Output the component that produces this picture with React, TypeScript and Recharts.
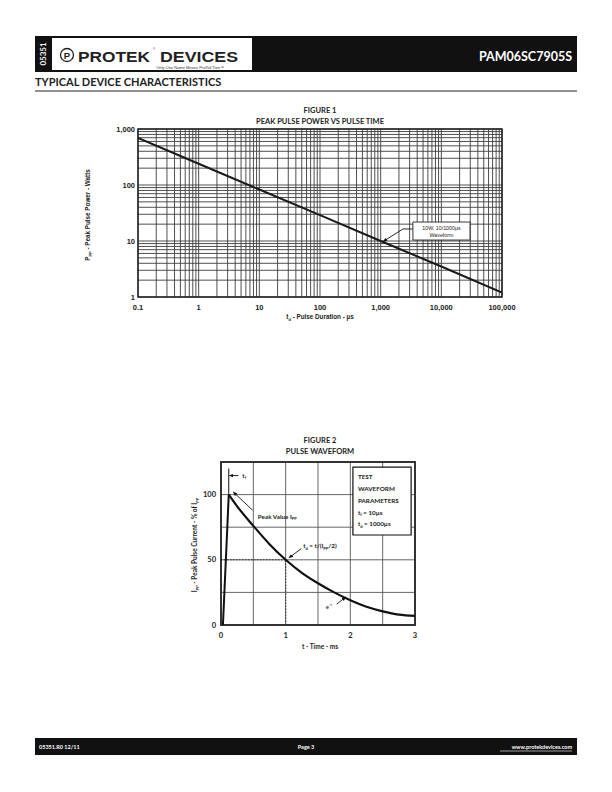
import React from "react"
import {
	LineChart,
	Line,
	XAxis,
	YAxis,
	CartesianGrid,
	ReferenceArea,
	ReferenceLine,
	ReferenceDot
} from "recharts"

// Figure 1 - peak pulse power vs pulse time (log-log)
const DURATION_US = [0.1, 1, 10, 100, 1000, 10000, 100000]
const PEAK_POWER_W = [690, 240, 83, 29, 10, 3.5, 1.2]
const X_DECADES = [0.1, 1, 10, 100, 1000, 10000, 100000]
const X_DECADE_LABELS = ["0.1", "1", "10", "100", "1,000", "10,000", "100,000"]
const Y_DECADES = [1, 10, 100, 1000]
const Y_DECADE_LABELS = ["1", "10", "100", "1,000"]
const MINOR_STEPS = [1, 2, 3, 4, 5, 6, 7, 8, 9]

// Figure 2 - pulse waveform
const RISE_MS = [0.03, 0.12]
const RISE_PCT = [0, 100]
const DECAY_MS = [0.12, 0.25, 0.5, 0.75, 1, 1.25, 1.5, 1.75, 2, 2.25, 2.5, 2.75, 3]
const DECAY_PCT = [100, 91, 76, 62, 50, 40, 32, 25, 19, 14, 10.5, 8, 7]
const WAVE_X_TICKS = [0, 0.5, 1, 1.5, 2, 2.5, 3]
const WAVE_X_LABELS = ["0", "", "1", "", "2", "", "3"]
const WAVE_Y_TICKS = [0, 25, 50, 75, 100, 125]
const WAVE_Y_LABELS = ["0", "", "50", "", "100", ""]

const CAL = "Lato, 'Open Sans', sans-serif"
const ARIAL = "'Liberation Sans', Arial, sans-serif"

const powerData = DURATION_US.map((t, i) => ({ t, p: PEAK_POWER_W[i] }))
const riseData = RISE_MS.map((t, i) => ({ t, v: RISE_PCT[i] }))
const decayData = DECAY_MS.map((t, i) => ({ t, v: DECAY_PCT[i] }))

const logTicks = (decades: number[]) =>
	decades.slice(0, -1).flatMap(d => MINOR_STEPS.map(m => d * m)).concat([decades[decades.length - 1]])

const decadeLabel = (decades: number[], labels: string[]) => (v: number) => {
	const i = decades.findIndex(d => Math.abs(d - v) < d * 1e-6)
	return i >= 0 ? labels[i] : ""
}

const listLabel = (ticks: number[], labels: string[]) => (v: number) => {
	const i = ticks.indexOf(v)
	return i >= 0 ? labels[i] : ""
}

// small text placed at a data point
function note(key: string, x: number, y: number, node: any) {
	return (
		<ReferenceDot
			key={key}
			x={x}
			y={y}
			r={0}
			fill="none"
			stroke="none"
			ifOverflow="visible"
			label={{
				content: (p: any) => {
					const vb = p.viewBox || {}
					return <g transform={`translate(${vb.x},${vb.y})`}>{node}</g>
				}
			}}
		/>
	)
}

function arrow(key: string, x1: number, y1: number, x2: number, y2: number, head = true) {
	return (
		<ReferenceLine
			key={key}
			segment={[{ x: x1, y: y1 }, { x: x2, y: y2 }]}
			ifOverflow="visible"
			shape={(p: any) => (
				<line
					x1={p.x1}
					y1={p.y1}
					x2={p.x2}
					y2={p.y2}
					stroke="#111"
					strokeWidth={0.9}
					markerEnd={head ? "url(#arrowHead)" : undefined}
				/>
			)}
		/>
	)
}

function PowerChart() {
	const xTicks = logTicks(X_DECADES)
	const yTicks = logTicks(Y_DECADES)
	const tickStyle = { fontFamily: ARIAL, fontSize: 7.5, fontWeight: 700, fill: "#222" }

	return (
		<div style={{ position: "absolute", left: 60, top: 100 }}>
			<LineChart width={460} height={230} data={powerData} margin={{ top: 29, right: 18, bottom: 13, left: 18 }}>
				<CartesianGrid stroke="#3c3c3c" strokeWidth={0.9} />
				<XAxis
					dataKey="t"
					type="number"
					scale="log"
					domain={[0.1, 100000]}
					ticks={xTicks}
					interval={0}
					allowDataOverflow
					tickFormatter={decadeLabel(X_DECADES, X_DECADE_LABELS)}
					tickLine={false}
					axisLine={false}
					tick={tickStyle}
					height={20}
				/>
				<YAxis
					type="number"
					scale="log"
					domain={[1, 1000]}
					ticks={yTicks}
					interval={0}
					allowDataOverflow
					tickFormatter={decadeLabel(Y_DECADES, Y_DECADE_LABELS)}
					tickLine={false}
					axisLine={false}
					tickSize={2}
					tickMargin={1}
					tick={tickStyle}
					width={60}
				/>
				<ReferenceArea x1={0.1} x2={100000} y1={1} y2={1000} fill="none" stroke="#222" strokeWidth={1.5} ifOverflow="visible" />
				<Line dataKey="p" type="linear" stroke="#1a1a1a" strokeWidth={2} dot={false} isAnimationActive={false} />
				<ReferenceArea
					x1={3400}
					x2={29700}
					y1={10.4}
					y2={21.8}
					fill="#fff"
					fillOpacity={1}
					stroke="#222"
					strokeWidth={0.9}
					label={{
						content: (p: any) => {
							const vb = p.viewBox || {}
							const cx = vb.x + vb.width / 2
							return (
								<text textAnchor="middle" fontFamily={ARIAL} fontSize={5.3} fill="#222">
									<tspan x={cx} y={vb.y + 7.5}>10W, 10/1000µs</tspan>
									<tspan x={cx} y={vb.y + 14.5}>Waveform</tspan>
								</text>
							)
						}
					}}
				/>
				{arrow("a1", 3400, 16.4, 2330, 16.4, false)}
				{arrow("a2", 2330, 16.4, 1100, 9.8)}
			</LineChart>
		</div>
	)
}

function WaveChart() {
	const tickStyle = { fontFamily: CAL, fontSize: 7.5, fontWeight: 700, fill: "#222" }
	const small = { fontFamily: CAL, fontSize: 6.3, fontWeight: 700, fill: "#222" }

	return (
		<div style={{ position: "absolute", left: 160, top: 455 }}>
			<LineChart width={280} height={200} margin={{ top: 7, right: 25, bottom: 10, left: 21 }}>
				<CartesianGrid stroke="#555" strokeWidth={0.9} />
				<XAxis
					dataKey="t"
					type="number"
					domain={[0, 3]}
					ticks={WAVE_X_TICKS}
					interval={0}
					tickFormatter={listLabel(WAVE_X_TICKS, WAVE_X_LABELS)}
					tickLine={false}
					axisLine={false}
					tick={tickStyle}
					height={20}
				/>
				<YAxis
					type="number"
					domain={[0, 125]}
					ticks={WAVE_Y_TICKS}
					interval={0}
					tickFormatter={listLabel(WAVE_Y_TICKS, WAVE_Y_LABELS)}
					tickLine={false}
					axisLine={false}
					tickSize={2}
					tickMargin={3}
					tick={tickStyle}
					width={40}
				/>
				<ReferenceArea x1={0} x2={3} y1={0} y2={125} fill="none" stroke="#333" strokeWidth={2} ifOverflow="visible" />
				<ReferenceLine segment={[{ x: 1, y: 0 }, { x: 1, y: 50 }]} stroke="#222" strokeWidth={0.9} strokeDasharray="1.5 1.5" />
				<ReferenceLine segment={[{ x: 0, y: 50 }, { x: 1, y: 50 }]} stroke="#222" strokeWidth={0.9} strokeDasharray="1.5 1.5" />
				<Line data={riseData} dataKey="v" type="linear" stroke="#111" strokeWidth={2} dot={false} isAnimationActive={false} />
				<Line data={decayData} dataKey="v" type="monotone" stroke="#111" strokeWidth={2.2} dot={false} isAnimationActive={false} />

				{/* t_f marker */}
				<ReferenceLine segment={[{ x: 0.12, y: 100 }, { x: 0.12, y: 120 }]} stroke="#111" strokeWidth={1} ifOverflow="visible" />
				{arrow("tf", 0.27, 114.6, 0.13, 114.6)}
				{note("tfl", 0.33, 114.6,
					<text dy={2} {...small}>t<tspan fontSize={4} dy={1.5}>f</tspan></text>
				)}

				{/* peak value */}
				{arrow("pk", 0.49, 88, 0.19, 102)}
				{note("pkl", 0.57, 83,
					<text dy={2} {...small}>Peak Value I<tspan fontSize={4} dy={1.5}>PP</tspan></text>
				)}

				{/* t_d */}
				{arrow("td", 1.24, 58.5, 1.05, 51.5)}
				{note("tdl", 1.27, 60.5,
					<text dy={2} {...small}>
						t<tspan fontSize={4} dy={1.5}>d</tspan>
						<tspan dy={-1.5}> = t/(I</tspan>
						<tspan fontSize={4} dy={1.5}>PP</tspan>
						<tspan dy={-1.5}>/2)</tspan>
					</text>
				)}

				{/* e^-t */}
				{arrow("et", 1.79, 16, 1.93, 21.5)}
				{note("etl", 1.62, 14,
					<text dy={2} fontFamily={CAL} fontSize={6} fill="#222">e<tspan fontSize={4} dy={-2.5}>-t</tspan></text>
				)}

				{/* parameters box */}
				<ReferenceArea
					x1={2.04}
					x2={2.94}
					y1={69}
					y2={121}
					fill="#fff"
					fillOpacity={1}
					stroke="#111"
					strokeWidth={1.2}
					label={{
						content: (p: any) => {
							const vb = p.viewBox || {}
							const lx = vb.x + 5
							return (
								<text {...small}>
									<tspan x={lx} y={vb.y + 12}>TEST</tspan>
									<tspan x={lx} y={vb.y + 24}>WAVEFORM</tspan>
									<tspan x={lx} y={vb.y + 36}>PARAMETERS</tspan>
									<tspan x={lx} y={vb.y + 47.5}>t</tspan>
									<tspan fontSize={4} dy={1.5}>f</tspan>
									<tspan dy={-1.5}> = 10µs</tspan>
									<tspan x={lx} y={vb.y + 59}>t</tspan>
									<tspan fontSize={4} dy={1.5}>d</tspan>
									<tspan dy={-1.5}> = 1000µs</tspan>
								</text>
							)
						}
					}}
				/>
			</LineChart>
		</div>
	)
}

function PageText() {
	const bold = { fontWeight: 700 }
	return (
		<svg width={612} height={792} style={{ position: "absolute", left: 0, top: 0 }}>
			<defs>
				<marker id="arrowHead" viewBox="0 0 10 10" refX="9" refY="5" markerWidth="5" markerHeight="5" orient="auto">
					<path d="M0,1 L10,5 L0,9 z" fill="#111" />
				</marker>
			</defs>

			{/* header */}
			<rect x={35} y={36} width={542} height={36} fill="#111" />
			<rect x={52} y={38} width={200} height={32} fill="#fff" />
			<text transform="translate(45.5,54) rotate(-90)" textAnchor="middle" fontFamily={CAL} fontSize={8} fill="#fff" {...bold}>05351</text>
			<circle cx={67} cy={55} r={6.5} fill="none" stroke="#222" strokeWidth={1.3} />
			<text x={67} y={58.5} textAnchor="middle" fontFamily={ARIAL} fontSize={9.5} fill="#222" {...bold}>P</text>
			<text x={78} y={61.5} fontFamily={ARIAL} fontSize={14} fontWeight={900} fill="#222" textLength={72} lengthAdjust="spacingAndGlyphs">PROTEK</text>
			<text x={153} y={50} fontFamily={ARIAL} fontSize={3} fill="#222">®</text>
			<text x={160} y={61.5} fontFamily={ARIAL} fontSize={14} fontWeight={900} fill="#222" textLength={78} lengthAdjust="spacingAndGlyphs">DEVICES</text>
			<text x={224} y={68.8} textAnchor="end" fontFamily={ARIAL} fontSize={4} fill="#333">Only One Name Means ProTek'Tion™</text>
			<text x={572} y={61} textAnchor="end" fontFamily={CAL} fontSize={12.5} fill="#fff" {...bold}>PAM06SC7905S</text>

			<text x={35} y={86} fontFamily={CAL} fontSize={11} fill="#222" {...bold}>TYPICAL DEVICE CHARACTERISTICS</text>
			<line x1={35} y1={91} x2={577} y2={91} stroke="#222" strokeWidth={1} />

			{/* figure 1 */}
			<text x={320} y={113} textAnchor="middle" fontFamily={CAL} fontSize={7.5} fill="#222" {...bold}>FIGURE 1</text>
			<text x={320} y={124} textAnchor="middle" fontFamily={CAL} fontSize={7.5} fill="#222" {...bold}>PEAK PULSE POWER VS PULSE TIME</text>
			<text transform="translate(90,215) rotate(-90)" textAnchor="middle" fontFamily={ARIAL} fontSize={6.3} fill="#222" {...bold}>
				P<tspan fontSize={4} dy={1.5}>PP</tspan><tspan dy={-1.5}> - Peak Pulse Power - Watts</tspan>
			</text>
			<text x={320} y={319} textAnchor="middle" fontFamily={ARIAL} fontSize={6.3} fill="#222" {...bold}>
				t<tspan fontSize={4} dy={1.5}>d</tspan><tspan dy={-1.5}> - Pulse Duration - µs</tspan>
			</text>

			{/* figure 2 */}
			<text x={320} y={443} textAnchor="middle" fontFamily={CAL} fontSize={7.5} fill="#222" {...bold}>FIGURE 2</text>
			<text x={320} y={454} textAnchor="middle" fontFamily={CAL} fontSize={7.5} fill="#222" {...bold}>PULSE WAVEFORM</text>
			<text transform="translate(197,545) rotate(-90)" textAnchor="middle" fontFamily={CAL} fontSize={6.5} fill="#222" {...bold}>
				I<tspan fontSize={4} dy={1.5}>PP</tspan><tspan dy={-1.5}> - Peak Pulse Current - % of I</tspan><tspan fontSize={4} dy={1.5}>PP</tspan>
			</text>
			<text x={320} y={649} textAnchor="middle" fontFamily={CAL} fontSize={6.5} fill="#222" {...bold}>t - Time - ms</text>

			{/* footer */}
			<rect x={35} y={738} width={542} height={17} fill="#111" />
			<text x={39} y={749} fontFamily={CAL} fontSize={5.5} fill="#fff" {...bold}>05351.R0 12/11</text>
			<text x={306} y={749} textAnchor="middle" fontFamily={CAL} fontSize={5.5} fill="#fff" {...bold}>Page 3</text>
			<text x={572} y={749} textAnchor="end" fontFamily={CAL} fontSize={5.5} fill="#fff" {...bold}>www.protekdevices.com</text>
			<line x1={500} y1={751} x2={572} y2={751} stroke="#fff" strokeWidth={0.6} />
		</svg>
	)
}

export default function App() {
	return (
		<div style={{ position: "absolute", left: 0, top: 0, width: 612, height: 792, background: "#fff" }}>
			<PageText />
			<PowerChart />
			<WaveChart />
		</div>
	)
}
